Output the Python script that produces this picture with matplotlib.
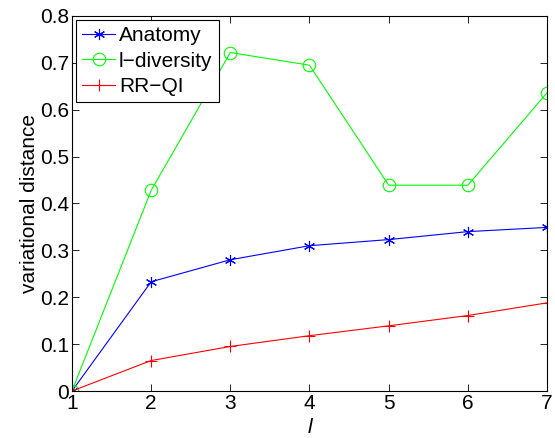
import matplotlib.pyplot as plt
import numpy as np

plt.rcParams['font.family'] = ['Liberation Sans', 'DejaVu Sans']

# data
l_values = [1, 2, 3, 4, 5, 6, 7]
anatomy = [0, 0.233, 0.280, 0.310, 0.323, 0.340, 0.349]
l_diversity = [0, 0.428, 0.722, 0.695, 0.439, 0.439, 0.636]
rr_qi = [0, 0.065, 0.095, 0.118, 0.139, 0.161, 0.188]

fig = plt.figure(figsize=(5.55, 4.38), dpi=100)
ax = fig.add_axes([0.1297, 0.1073, 0.8559, 0.8562])

# matlab style asterisk: 3 crossing lines
ax.plot(l_values, anatomy, color='b', marker=(6, 2, 0), markersize=8, linewidth=0.8,
        markeredgewidth=0.8, label='Anatomy')
ax.plot(l_values, l_diversity, color='#00ff00', marker='o', markersize=9,
        markerfacecolor='none', linewidth=0.8, markeredgewidth=0.8, label='l\u2212diversity')
ax.plot(l_values, rr_qi, color='r', marker='+', markersize=9, linewidth=0.8,
        markeredgewidth=0.8, label='RR\u2212QI')

ax.set_xlim(1, 7)
ax.set_ylim(0, 0.8)
ax.set_xticks(l_values)
ax.set_yticks(np.arange(0, 0.81, 0.1))
ax.set_yticklabels(['0', '0.1', '0.2', '0.3', '0.4', '0.5', '0.6', '0.7', '0.8'])

ax.tick_params(direction='in', top=True, right=True, labelsize=15, length=5, width=0.6, pad=2)
for s in ax.spines.values():
    s.set_linewidth(0.8)

ax.set_xlabel('l', fontsize=15, style='italic', labelpad=4)
ax.set_ylabel('variational distance', fontsize=15, labelpad=1)

leg = ax.legend(loc='upper left', fontsize=15, fancybox=False, edgecolor='k',
                framealpha=1, borderaxespad=0.2, handlelength=1.55, labelspacing=0.3,
                borderpad=0.3, handletextpad=0.2)
leg.get_frame().set_linewidth(0.8)

plt.savefig('out.png', dpi=100)
